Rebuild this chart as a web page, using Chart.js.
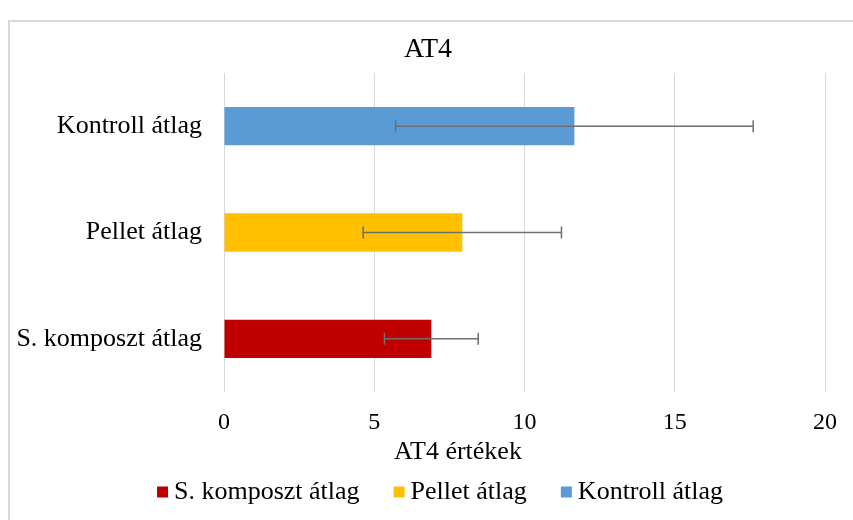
<!DOCTYPE html>
<html>
<head>
<meta charset="utf-8">
<script src="https://cdn.jsdelivr.net/npm/chart.js@4"></script>
<style>
  html, body { margin: 0; padding: 0; background: #fff; }
  #wrap { width: 853px; height: 520px; }
</style>
</head>
<body>
<div id="wrap"><canvas id="at4Chart" width="853" height="520"></canvas></div>
<script>
// categories top to bottom, series in legend order
const categories = ['Kontroll átlag', 'Pellet átlag', 'S. komposzt átlag'];
const seriesNames = ['S. komposzt átlag', 'Pellet átlag', 'Kontroll átlag'];
const seriesMeans = [6.9, 7.93, 11.66];
const seriesErrors = [1.56, 3.3, 5.95];
const seriesColors = ['#C00000', '#FFC000', '#5B9BD5'];
const xTicks = [0, 5, 10, 15, 20];
const chartTitle = 'AT4';
const xTitle = 'AT4 értékek';

const FONT = "'Liberation Serif', 'Times New Roman', serif";

const datasets = seriesNames.map((name, i) => ({
  label: name,
  data: categories.map(c => c === name ? seriesMeans[i] : null),
  backgroundColor: seriesColors[i],
  borderWidth: 0,
  categoryPercentage: 0.36,
  barPercentage: 1
}));

// outer frame + titles (Excel-style placement, not centred on the plot)
const framePlugin = {
  id: 'frame',
  beforeDraw(chart) {
    const ctx = chart.ctx;
    ctx.save();
    ctx.strokeStyle = '#d9d9d9';
    ctx.lineWidth = 2;
    ctx.beginPath();
    ctx.moveTo(9, chart.height + 5);
    ctx.lineTo(9, 21);
    ctx.lineTo(chart.width + 5, 21);
    ctx.stroke();

    ctx.fillStyle = '#000';
    ctx.textAlign = 'center';
    ctx.textBaseline = 'middle';
    ctx.font = `28px ${FONT}`;
    ctx.fillText(chartTitle, 428, 50);
    ctx.font = `26px ${FONT}`;
    ctx.fillText(xTitle, 458, 452);
    ctx.restore();
  }
};

const errorBarPlugin = {
  id: 'errorBars',
  afterDatasetsDraw(chart) {
    const ctx = chart.ctx;
    const xScale = chart.scales.x;
    ctx.save();
    ctx.strokeStyle = '#6f6f6f';
    ctx.lineWidth = 1.5;
    chart.data.datasets.forEach((ds, i) => {
      const meta = chart.getDatasetMeta(i);
      ds.data.forEach((v, j) => {
        if (v === null) return;
        const y = meta.data[j].y;
        const x1 = xScale.getPixelForValue(v - seriesErrors[i]);
        const x2 = xScale.getPixelForValue(v + seriesErrors[i]);
        ctx.beginPath();
        ctx.moveTo(x1, y);
        ctx.lineTo(x2, y);
        ctx.moveTo(x1, y - 6);
        ctx.lineTo(x1, y + 6);
        ctx.moveTo(x2, y - 6);
        ctx.lineTo(x2, y + 6);
        ctx.stroke();
      });
    });
    ctx.restore();
  }
};

const legendPlugin = {
  id: 'bottomLegend',
  afterDraw(chart) {
    const ctx = chart.ctx;
    ctx.save();
    ctx.font = `26px ${FONT}`;
    ctx.textBaseline = 'middle';
    const box = 11, gapText = 6, gapItem = 34;
    const widths = seriesNames.map(n => ctx.measureText(n).width);
    const total = widths.reduce((a, w) => a + box + gapText + w, 0) + gapItem * (seriesNames.length - 1);
    let x = 440 - total / 2;
    const y = 492;
    seriesNames.forEach((n, i) => {
      ctx.fillStyle = seriesColors[i];
      ctx.fillRect(x, y - box / 2, box, box);
      x += box + gapText;
      ctx.fillStyle = '#000';
      ctx.fillText(n, x, y);
      x += widths[i] + gapItem;
    });
    ctx.restore();
  }
};

new Chart(document.getElementById('at4Chart'), {
  type: 'bar',
  data: { labels: categories, datasets },
  plugins: [framePlugin, errorBarPlugin, legendPlugin],
  options: {
    indexAxis: 'y',
    responsive: false,
    animation: false,
    devicePixelRatio: 1,
    skipNull: true,
    layout: { padding: { top: 73, right: 28, bottom: 49, left: 0 } },
    plugins: {
      legend: { display: false },
      tooltip: { enabled: false },
      title: { display: false }
    },
    scales: {
      x: {
        min: 0,
        max: 20,
        afterBuildTicks: scale => { scale.ticks = xTicks.map(v => ({ value: v })); },
        afterFit: scale => { scale.height = 79; },
        grid: { color: '#d9d9d9', lineWidth: 1, drawTicks: false },
        border: { display: false },
        ticks: { color: '#000', font: { family: FONT, size: 24 }, padding: 16 }
      },
      y: {
        afterFit: scale => { scale.width = 224; },
        grid: { display: false, drawTicks: false },
        border: { display: false },
        ticks: { color: '#000', font: { family: FONT, size: 26 }, padding: 22 }
      }
    }
  }
});
</script>
</body>
</html>
